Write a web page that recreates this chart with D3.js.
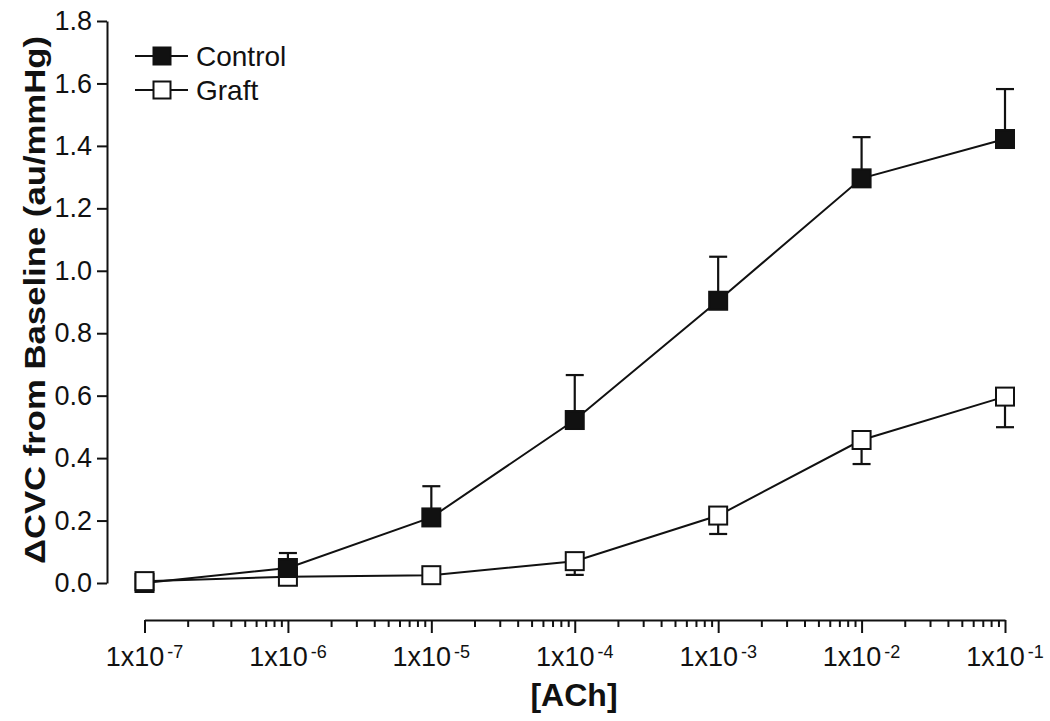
<!DOCTYPE html>
<html>
<head>
<meta charset="utf-8">
<script src="https://cdn.jsdelivr.net/npm/d3@7"></script>
<style>
  html, body { margin: 0; padding: 0; background: #fff; }
  svg { display: block; }
  text { font-family: "Liberation Sans", Arial, Helvetica, sans-serif; fill: #111; }
</style>
</head>
<body>
<svg id="chart" width="1050" height="721"></svg>
<script>
// ---- Data ----
const concentrations = [1e-7, 1e-6, 1e-5, 1e-4, 1e-3, 1e-2, 1e-1];
const controlMean = [0.0, 0.048, 0.21, 0.522, 0.904, 1.296, 1.422];
const controlSE   = [0.004, 0.048, 0.10, 0.144, 0.141, 0.132, 0.16];
const graftMean   = [0.006, 0.02, 0.025, 0.07, 0.216, 0.458, 0.597];
const graftSE     = [0.004, 0.01, 0.012, 0.044, 0.059, 0.077, 0.098];
const yTicks = [0, 0.2, 0.4, 0.6, 0.8, 1.0, 1.2, 1.4, 1.6, 1.8];
const xTickExponents = ["-7", "-6", "-5", "-4", "-3", "-2", "-1"];
const seriesNames = ["Control", "Graft"];

// ---- Layout ----
const svg = d3.select("#chart");
const x = d3.scaleLog().domain([1e-7, 1e-1]).range([144.5, 1005]);
const y = d3.scaleLinear().domain([0, 1.8]).range([583, 21]);
const xAxisY = 620;
const markerSize = 18;
const capW = 18;

// ---- Y axis ----
const yAxis = d3.axisLeft(y).tickValues(yTicks).tickFormat(d3.format(".1f"))
  .tickSize(10).tickSizeOuter(0).tickPadding(5);
const gy = svg.append("g").attr("transform", "translate(107,0)").call(yAxis);
gy.select(".domain").attr("stroke", "#111").attr("stroke-width", 2);
gy.selectAll(".tick line").attr("stroke", "#111").attr("stroke-width", 2);
gy.selectAll(".tick text").attr("font-size", 27).attr("fill", "#111")
  .attr("font-family", "'Liberation Sans', Arial, sans-serif");

// ---- X axis (log with minor ticks) ----
const minorTicks = [];
for (let e = -7; e < -1; e++) {
  for (let m = 2; m <= 9; m++) minorTicks.push(m * Math.pow(10, e));
}
const gx = svg.append("g").attr("transform", `translate(0,${xAxisY})`);
gx.call(d3.axisBottom(x).tickValues(concentrations).tickSize(13).tickSizeOuter(0).tickFormat(""));
gx.select(".domain").attr("stroke", "#111").attr("stroke-width", 2);
gx.selectAll(".tick line").attr("stroke", "#111").attr("stroke-width", 2);
const gxMinor = svg.append("g").attr("transform", `translate(0,${xAxisY})`);
gxMinor.call(d3.axisBottom(x).tickValues(minorTicks).tickSize(7).tickSizeOuter(0).tickFormat(""));
gxMinor.select(".domain").remove();
gxMinor.selectAll(".tick line").attr("stroke", "#111").attr("stroke-width", 2);

// tick labels with superscripts
const xl = svg.append("g");
concentrations.forEach((c, i) => {
  const t = xl.append("text")
    .attr("x", x(c)).attr("y", 666)
    .attr("text-anchor", "middle")
    .attr("font-size", 27);
  t.append("tspan").text("1x10");
  t.append("tspan").attr("font-size", 18).attr("dy", -8).attr("dx", 3).text(xTickExponents[i]);
});

// ---- Axis titles ----
svg.append("text")
  .attr("x", 574).attr("y", 706)
  .attr("text-anchor", "middle")
  .attr("font-size", 32).attr("font-weight", "bold")
  .text("[ACh]");

svg.append("text")
  .attr("transform", "translate(45,300) rotate(-90)")
  .attr("text-anchor", "middle")
  .attr("font-size", 30).attr("font-weight", "bold")
  .attr("textLength", 528).attr("lengthAdjust", "spacingAndGlyphs")
  .text("\u0394CVC from Baseline (au/mmHg)");

// ---- Series ----
const controlData = concentrations.map((c, i) => ({ c, v: controlMean[i], se: controlSE[i], s: 0 }));
const graftData = concentrations.map((c, i) => ({ c, v: graftMean[i], se: graftSE[i], s: 1 }));

const line = d3.line().x(d => x(d.c)).y(d => y(d.v));
const plot = svg.append("g");

[controlData, graftData].forEach(data => {
  plot.append("path").datum(data).attr("d", line)
    .attr("fill", "none").attr("stroke", "#111").attr("stroke-width", 2);
});

// error bars: control upward, graft downward
function errorBars(data, dir) {
  const g = plot.append("g").attr("stroke", "#111").attr("stroke-width", 2.2);
  data.forEach(d => {
    const yEnd = y(d.v + dir * d.se);
    g.append("line").attr("x1", x(d.c)).attr("x2", x(d.c))
      .attr("y1", y(d.v)).attr("y2", yEnd);
    g.append("line").attr("x1", x(d.c) - capW / 2).attr("x2", x(d.c) + capW / 2)
      .attr("y1", yEnd).attr("y2", yEnd);
  });
}
errorBars(controlData, 1);
errorBars(graftData, -1);

// markers, lower value drawn first at each concentration
const allPts = controlData.concat(graftData).sort((a, b) => a.v - b.v);
plot.selectAll("rect.marker").data(allPts).enter().append("rect")
  .attr("class", "marker")
  .attr("x", d => x(d.c) - markerSize / 2)
  .attr("y", d => y(d.v) - markerSize / 2)
  .attr("width", markerSize).attr("height", markerSize)
  .attr("fill", d => d.s === 0 ? "#111" : "#fff")
  .attr("stroke", "#111").attr("stroke-width", 2);

// ---- Legend ----
const legend = svg.append("g");
const legendY = [56, 90];
seriesNames.forEach((name, i) => {
  const ly = legendY[i];
  legend.append("line").attr("x1", 135).attr("x2", 188).attr("y1", ly).attr("y2", ly)
    .attr("stroke", "#111").attr("stroke-width", 2);
  legend.append("rect").attr("x", 162 - 8.5).attr("y", ly - 8.5)
    .attr("width", 17).attr("height", 17)
    .attr("fill", i === 0 ? "#111" : "#fff").attr("stroke", "#111").attr("stroke-width", 2);
  legend.append("text").attr("x", 196).attr("y", ly + 10)
    .attr("font-size", 28).text(name);
});
</script>
</body>
</html>
